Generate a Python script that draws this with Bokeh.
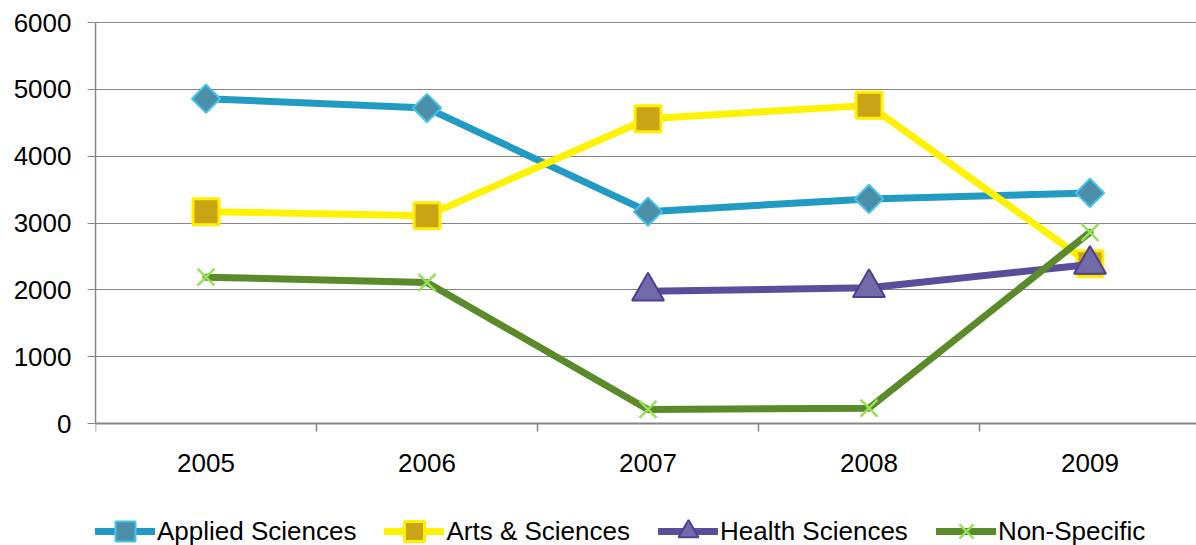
import math
from bokeh.plotting import figure
from bokeh.models import Range1d, FixedTicker, Legend, LegendItem
from bokeh.embed import file_html
from bokeh.resources import INLINE

# ---- data ----
years = ["2005", "2006", "2007", "2008", "2009"]
applied_sciences = [4860, 4720, 3170, 3360, 3450]
arts_sciences = [3170, 3110, 4560, 4760, 2390]
health_sciences = [float("nan"), float("nan"), 1980, 2030, 2380]
non_specific = [2190, 2110, 210, 230, 2860]
y_ticks = [0, 1000, 2000, 3000, 4000, 5000, 6000]

xs = list(range(1, len(years) + 1))
FONT = "Liberation Sans"
GRAY = "#868686"

# layout (pixels)
W, H = 1196, 545
AXIS_X = 95              # y axis line / frame left
TOP_GRID = 22            # y = 6000 position
FRAME_TOP = 19
PLOT_BOTTOM = 423        # y = 0 position
CAT_W = 221

y_max = y_ticks[-1]
px_per_unit = (PLOT_BOTTOM - TOP_GRID) / y_max
y_min = -(H - PLOT_BOTTOM) / px_per_unit
y_top = y_max + (TOP_GRID - FRAME_TOP) / px_per_unit
x_start = 0.5
x_end = x_start + (W - AXIS_X) / CAT_W

p = figure(width=W, height=H, output_backend="svg", toolbar_location=None,
           x_range=Range1d(x_start, x_end), y_range=Range1d(y_min, y_top),
           min_border_left=AXIS_X, min_border_right=0, min_border_top=FRAME_TOP,
           min_border_bottom=0)
p.outline_line_color = None
p.background_fill_color = "white"
p.border_fill_color = "white"

# grid
p.xgrid.grid_line_color = None
p.ygrid.grid_line_color = GRAY
p.ygrid.grid_line_width = 1
p.ygrid.ticker = FixedTicker(ticks=y_ticks)

# y axis
p.yaxis.bounds = (0, y_max)
p.yaxis.ticker = FixedTicker(ticks=y_ticks)
p.yaxis.axis_line_color = GRAY
p.yaxis.axis_line_width = 1.5
p.yaxis.major_tick_line_color = GRAY
p.yaxis.major_tick_out = 8
p.yaxis.major_tick_in = 0
p.yaxis.minor_tick_line_color = None
p.yaxis.major_label_text_font = FONT
p.yaxis.major_label_text_font_size = "26px"
p.yaxis.major_label_text_color = "#000000"
p.yaxis.major_label_standoff = 16

# x axis (drawn at y = 0 inside the frame, legend sits below it)
p.xaxis.fixed_location = 0
p.xaxis.bounds = (0.5, x_end)
p.xaxis.ticker = FixedTicker(ticks=xs, minor_ticks=[x - 0.5 for x in xs] + [xs[-1] + 0.5])
p.xaxis.major_label_overrides = {x: y for x, y in zip(xs, years)}
p.xaxis.axis_line_color = GRAY
p.xaxis.axis_line_width = 2
p.xaxis.major_tick_line_color = None
p.xaxis.major_tick_out = 0
p.xaxis.major_tick_in = 0
p.xaxis.minor_tick_line_color = GRAY
p.xaxis.minor_tick_line_width = 1.5
p.xaxis.minor_tick_out = 8
p.xaxis.minor_tick_in = 0
p.xaxis.major_label_text_font = FONT
p.xaxis.major_label_text_font_size = "26px"
p.xaxis.major_label_text_color = "#000000"
p.xaxis.major_label_standoff = 22

LW = 7

l1 = p.line(xs, applied_sciences, line_color="#219bc3", line_width=LW,
            line_join="round", line_cap="round")
s1 = p.scatter(xs, applied_sciences, marker="square", size=20, angle=math.pi / 4,
               fill_color="#4a8ea8", line_color="#45c3ea", line_width=2)

l2 = p.line(xs, arts_sciences, line_color="#fff200", line_width=LW,
            line_join="round", line_cap="round")
s2 = p.scatter(xs, arts_sciences, marker="square", size=26,
               fill_color="#c9a414", line_color="#ffee00", line_width=3)

l3 = p.line(xs, health_sciences, line_color="#5a4e9c", line_width=LW,
            line_join="round", line_cap="round")
s3 = p.scatter(xs, health_sciences, marker="triangle", size=32,
               fill_color="#706aa6", line_color="#4e3f90", line_width=2)

l4 = p.line(xs, non_specific, line_color="#5b8a2b", line_width=LW,
            line_join="round", line_cap="round")
s4 = p.scatter(xs, non_specific, marker="x", size=24,
               line_color="#93e255", line_width=2.5)

legend = Legend(items=[
    LegendItem(label="Applied Sciences", renderers=[l1, s1]),
    LegendItem(label="Arts & Sciences", renderers=[l2, s2]),
    LegendItem(label="Health Sciences", renderers=[l3, s3]),
    LegendItem(label="Non-Specific", renderers=[l4, s4]),
], orientation="horizontal", location=(0, -11), glyph_width=60, glyph_height=50,
    label_standoff=2, spacing=28, padding=0, margin=0, border_line_color=None,
    background_fill_alpha=0, label_text_font=FONT, label_text_font_size="26px",
    label_text_color="#000000")
p.add_layout(legend)

open("out.html", "w").write(file_html(p, INLINE))
